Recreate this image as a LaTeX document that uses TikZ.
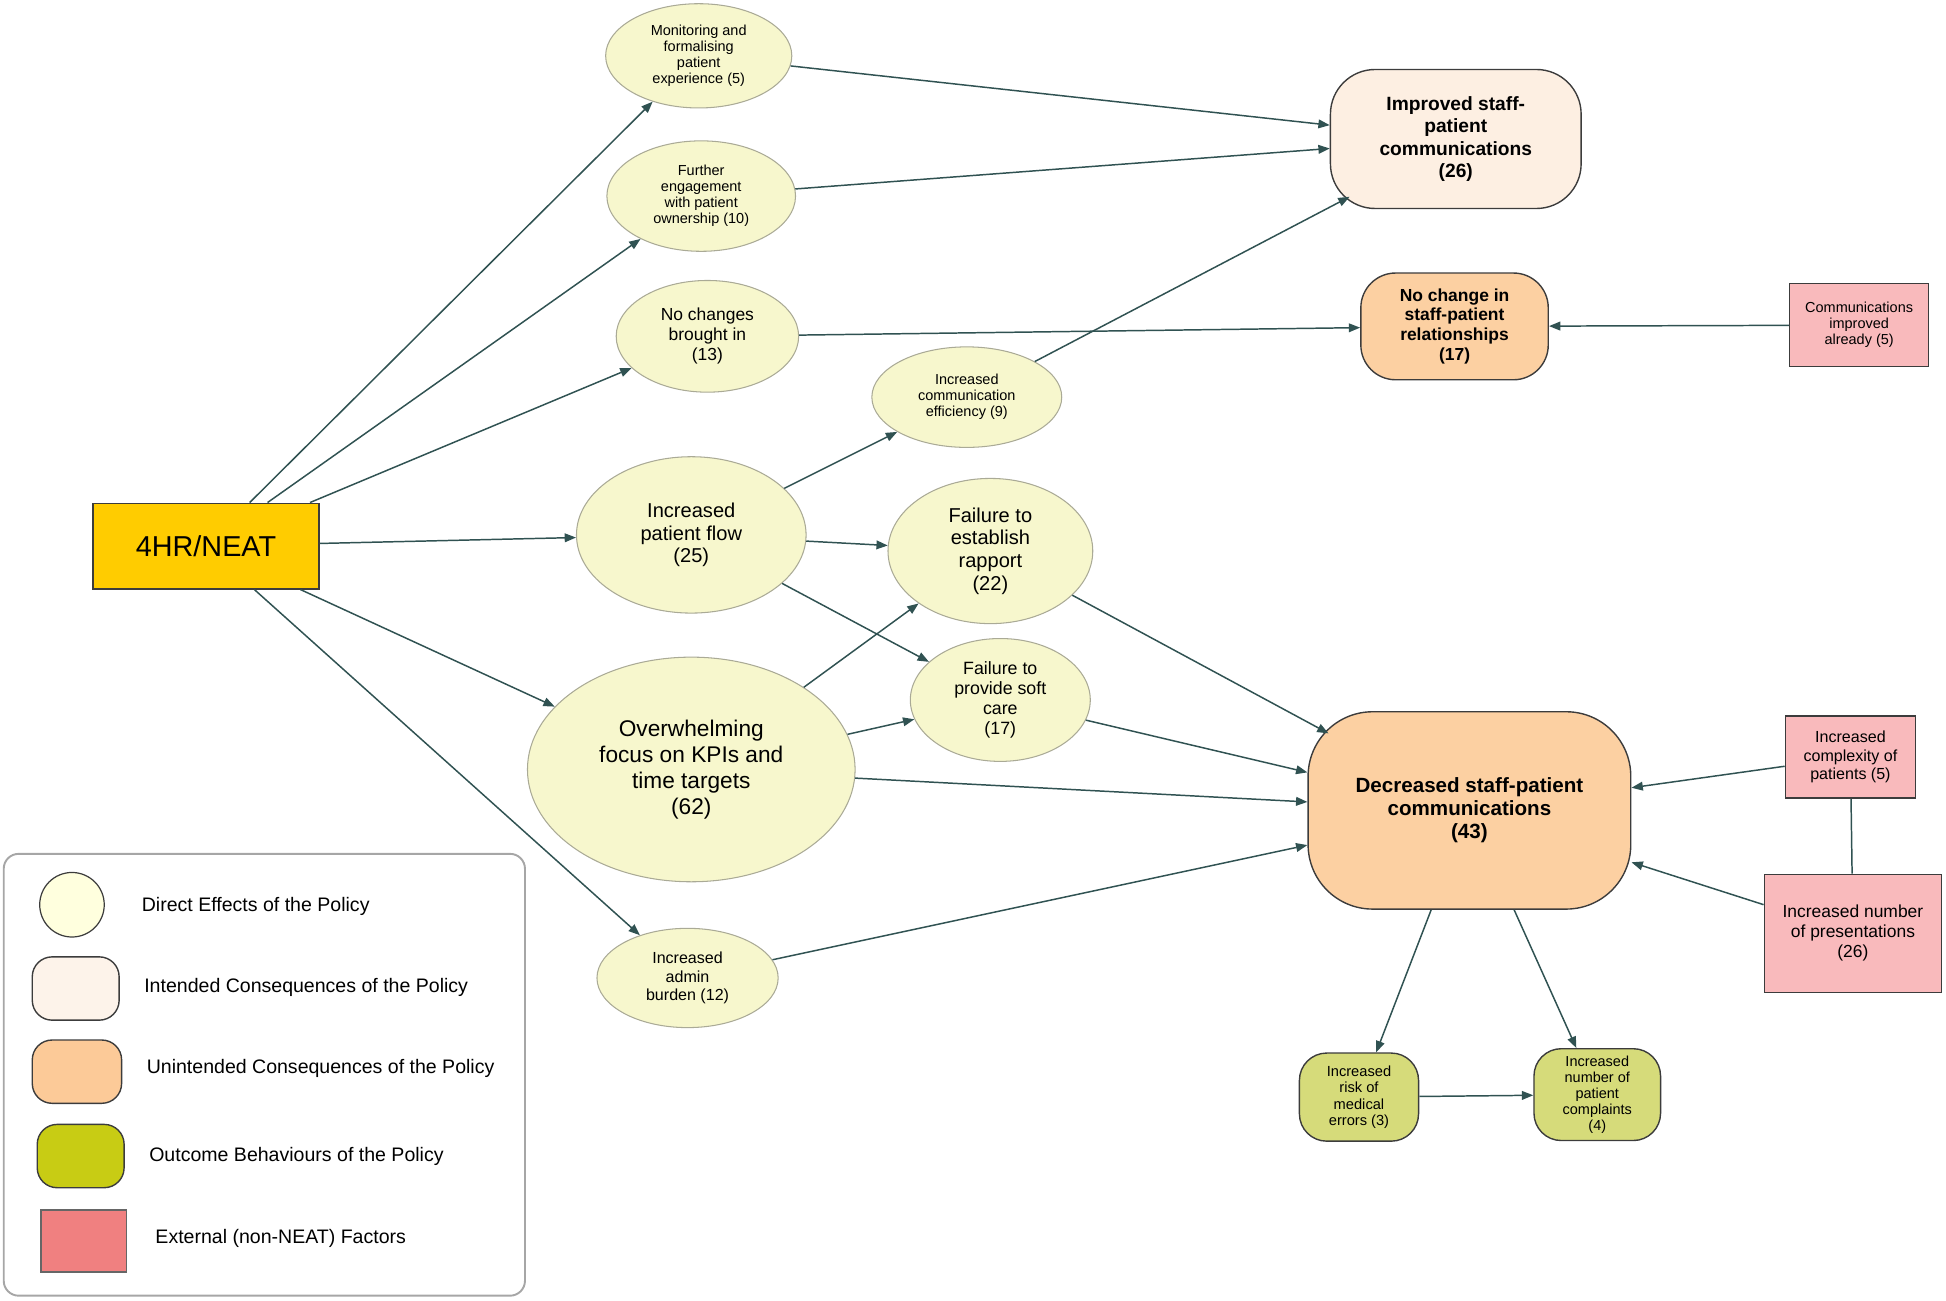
\documentclass[tikz,border=0pt]{standalone}
\usepackage{fontspec}
\setmainfont{Liberation Sans}
\usetikzlibrary{shapes.geometric,arrows.meta}

\definecolor{flechacol}{RGB}{48,82,82}
\definecolor{efectofill}{RGB}{247,247,205}
\definecolor{efectoline}{RGB}{170,170,150}
\definecolor{intfill}{RGB}{253,239,226}
\definecolor{nointfill}{RGB}{252,208,162}
\definecolor{resfill}{RGB}{214,219,122}
\definecolor{extfill}{RGB}{249,186,188}
\definecolor{neatfill}{RGB}{255,204,0}
\definecolor{bordecol}{RGB}{60,60,60}
\definecolor{legcirc}{RGB}{255,255,222}
\definecolor{legint}{RGB}{253,243,234}
\definecolor{legnoint}{RGB}{252,202,152}
\definecolor{legres}{RGB}{200,204,20}
\definecolor{legext}{RGB}{240,128,128}

\newcommand{\fsz}[2]{\fontsize{#1}{#2}\selectfont}

\begin{document}
\begin{tikzpicture}[
  efecto/.style={ellipse, draw=efectoline, line width=0.6pt, fill=efectofill, inner sep=0pt, align=center},
  consec/.style={rectangle, draw=bordecol, line width=0.8pt, inner sep=0pt, align=center},
  externo/.style={rectangle, draw=bordecol, line width=0.7pt, fill=extfill, inner sep=0pt, align=center},
  resultado/.style={consec, fill=resfill, rounded corners=0.55cm},
  flecha/.style={draw=flechacol, line width=0.85pt, -{Triangle[length=6.5pt,width=5pt]}},
  enlace/.style={draw=flechacol, line width=0.85pt},
  leyenda/.style={anchor=west, inner sep=0pt, font=\fsz{11.2}{13}}
]

\useasboundingbox (0,0) rectangle (39.2,26.2);

% policy
\node[rectangle, draw=bordecol, line width=0.8pt, fill=neatfill, minimum width=4.55cm, minimum height=1.725cm, font=\fsz{16.5}{18}] (neat) at (4.15,15.2) {4HR/NEAT};

% direct effects
\node[efecto, minimum width=3.75cm, minimum height=2.1cm, font=\fsz{8.3}{9.2}] (monit) at (14.075,25.075) {Monitoring and\\formalising\\patient\\experience (5)};
\node[efecto, minimum width=3.8cm, minimum height=2.225cm, font=\fsz{8.3}{9.2}] (engage) at (14.125,22.25) {Further\\engagement\\with patient\\ownership (10)};
\node[efecto, minimum width=3.675cm, minimum height=2.25cm, font=\fsz{10}{11.4}] (nochange) at (14.25,19.425) {No changes\\brought in\\(13)};
\node[efecto, minimum width=3.825cm, minimum height=2.025cm, font=\fsz{8.3}{9.2}] (effic) at (19.475,18.2) {Increased\\communication\\efficiency (9)};
\node[efecto, minimum width=4.625cm, minimum height=3.15cm, font=\fsz{11.5}{13}] (flow) at (13.925,15.425) {Increased\\patient flow\\(25)};
\node[efecto, minimum width=4.125cm, minimum height=2.925cm, font=\fsz{11.5}{13}] (rapport) at (19.95,15.1) {Failure to\\establish\\rapport\\(22)};
\node[efecto, minimum width=3.625cm, minimum height=2.475cm, font=\fsz{10.2}{11.5}] (soft) at (20.15,12.1) {Failure to\\provide soft\\care\\(17)};
\node[efecto, minimum width=6.6cm, minimum height=4.525cm, font=\fsz{13}{15}] (kpi) at (13.925,10.7) {Overwhelming\\focus on KPIs and\\time targets\\(62)};
\node[efecto, minimum width=3.65cm, minimum height=2cm, font=\fsz{9.2}{10.7}] (admin) at (13.85,6.5) {Increased\\admin\\burden (12)};

% consequences
\node[consec, fill=intfill, rounded corners=0.9cm, minimum width=5.05cm, minimum height=2.8cm, font=\bfseries\fsz{11}{12.8}] (improved) at (29.325,23.4) {Improved staff-\\patient\\communications\\(26)};
\node[consec, fill=nointfill, rounded corners=0.7cm, minimum width=3.775cm, minimum height=2.15cm, font=\bfseries\fsz{10}{11.4}] (norel) at (29.3,19.625) {No change in\\staff-patient\\relationships\\(17)};
\node[consec, fill=nointfill, rounded corners=1.3cm, minimum width=6.5cm, minimum height=3.975cm, font=\bfseries\fsz{11.8}{13.2}] (decreased) at (29.6,9.875) {Decreased staff-patient\\communications\\(43)};

% external factors
\node[externo, minimum width=2.8cm, minimum height=1.675cm, font=\fsz{8.3}{9.2}] (already) at (37.45,19.65) {Communications\\improved\\already (5)};
\node[externo, minimum width=2.625cm, minimum height=1.65cm, font=\fsz{9.2}{10.7}] (complex) at (37.275,10.95) {Increased\\complexity of\\patients (5)};
\node[externo, minimum width=3.575cm, minimum height=2.375cm, font=\fsz{10}{11.4}] (present) at (37.325,7.4) {Increased number\\of presentations\\(26)};

% outcomes
\node[resultado, minimum width=2.4cm, minimum height=1.775cm, font=\fsz{8.4}{9.5}] (errors) at (27.375,4.1) {Increased\\risk of\\medical\\errors (3)};
\node[resultado, minimum width=2.55cm, minimum height=1.85cm, font=\fsz{8.3}{9.2}] (complaints) at (32.175,4.15) {Increased\\number of\\patient\\complaints\\(4)};

% connectors
\draw[flecha] (neat) -- (monit);
\draw[flecha] (neat) -- (engage);
\draw[flecha] (neat) -- (nochange);
\draw[flecha] (neat) -- (flow);
\draw[flecha] (neat) -- (kpi);
\draw[flecha] (neat) -- (admin);
\draw[flecha] (monit) -- (improved);
\draw[flecha] (engage) -- (improved);
\draw[flecha] (effic) -- ([shift={(0.4,0.25)}]improved.south west);
\draw[flecha] (nochange) -- (norel);
\draw[flecha] (already) -- (norel);
\draw[flecha] (flow) -- (effic);
\draw[flecha] (flow) -- (rapport);
\draw[flecha] (flow) -- (soft);
\draw[flecha] (kpi) -- (rapport);
\draw[flecha] (kpi) -- (soft);
\draw[flecha] (kpi) -- (decreased);
\draw[flecha] (rapport) -- ([shift={(0.425,-0.45)}]decreased.north west);
\draw[flecha] (soft) -- (decreased);
\draw[flecha] (admin) -- (decreased);
\draw[flecha] (complex) -- (decreased);
\draw[flecha] (present) -- (decreased);
\draw[enlace] (complex) -- (present);
\draw[flecha] (decreased) -- (errors);
\draw[flecha] (decreased) -- (complaints);
\draw[flecha] (errors) -- (complaints);

% legend
\draw[draw=black!35, line width=1.1pt, rounded corners=0.3cm] (0.075,0.1) rectangle (10.575,9.0);
\node[circle, draw=bordecol, line width=0.7pt, fill=legcirc, minimum size=1.3cm, inner sep=0pt] (legdirect) at (1.45,7.975) {};
\node[consec, fill=legint, rounded corners=0.4cm, minimum width=1.75cm, minimum height=1.275cm] (legint) at (1.525,6.2875) {};
\node[consec, fill=legnoint, rounded corners=0.4cm, minimum width=1.8cm, minimum height=1.275cm] (legnoint) at (1.55,4.6125) {};
\node[consec, fill=legres, rounded corners=0.4cm, minimum width=1.75cm, minimum height=1.275cm] (legres) at (1.625,2.9125) {};
\node[rectangle, draw=black!60, line width=0.7pt, fill=legext, minimum width=1.725cm, minimum height=1.25cm] (legext) at (1.6875,1.2) {};
\node[leyenda] (txtdirect) at (2.85,7.95) {Direct Effects of the Policy};
\node[leyenda] (txtint) at (2.9,6.3) {Intended Consequences of the Policy};
\node[leyenda] (txtnoint) at (2.95,4.675) {Unintended Consequences of the Policy};
\node[leyenda] (txtres) at (3.0,2.9) {Outcome Behaviours of the Policy};
\node[leyenda] (txtext) at (3.125,1.25) {External (non-NEAT) Factors};

\end{tikzpicture}
\end{document}
